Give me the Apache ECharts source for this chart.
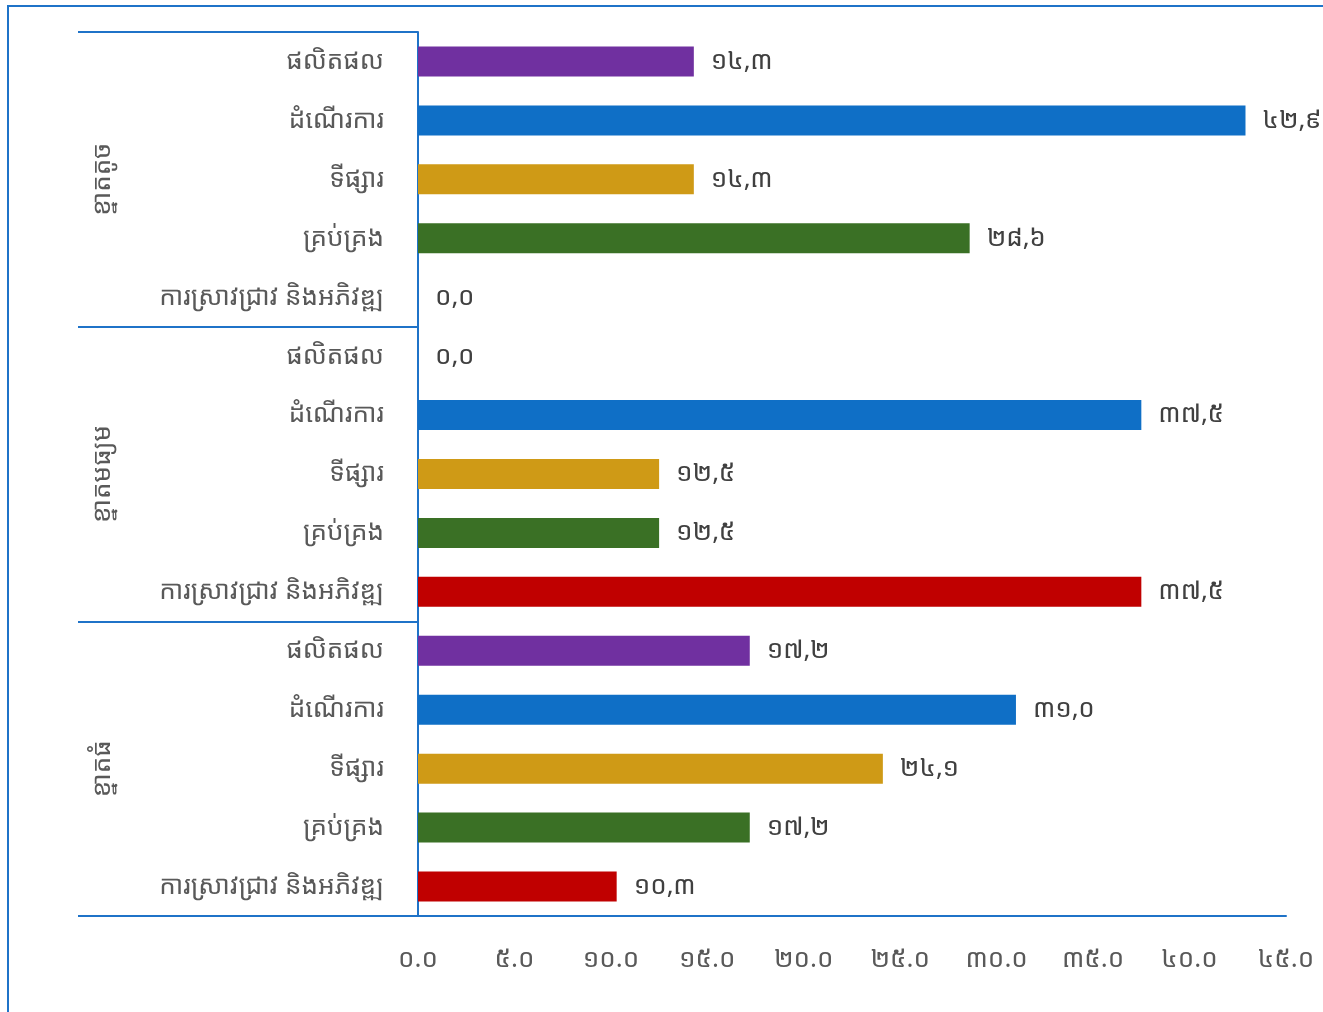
<!DOCTYPE html>
<html><head><meta charset="utf-8">
<script src="https://cdn.jsdelivr.net/npm/echarts@6/dist/echarts.min.js"></script>
<style>html,body{margin:0;padding:0;background:#fff}#c{width:1323px;height:1012px}</style>
</head><body><div id="c"></div>
<script>
var groups = ['ខ្នាតតូច', 'ខ្នាតមធ្យម', 'ខ្នាតធំ'];
var subCategories = ['ផលិតផល', 'ដំណើរការ', 'ទីផ្សារ', 'គ្រប់គ្រង', 'ការស្រាវជ្រាវ និងអភិវឌ្ឍ'];
var smallValues = [14.3, 42.9, 14.3, 28.6, 0.0];
var mediumValues = [0.0, 37.5, 12.5, 12.5, 37.5];
var largeValues = [17.2, 31.0, 24.1, 17.2, 10.3];
var subColors = ['#7030a0', '#0f6fc6', '#cf9a16', '#3a7025', '#c00000'];
var xTicks = [0, 5, 10, 15, 20, 25, 30, 35, 40, 45];

var KD = '០១២៣៤៥៦៧៨៩';
function kh(s){ return String(s).replace(/[0-9]/g, function(d){ return KD[+d]; }); }

var cats = [], data = [];
[smallValues, mediumValues, largeValues].forEach(function(vals, gi){
  vals.forEach(function(v, i){
    cats.push(subCategories[i]);
    data.push({value: v, itemStyle: {color: subColors[i]}});
  });
});

var FONT = '"Noto Sans Khmer", "Noto Sans", sans-serif';
var blue = '#1f73c8';
var chart = echarts.init(document.getElementById('c'));
chart.setOption({
  animation: false,
  grid: {left: 418, right: 37, top: 32, bottom: 96, containLabel: false},
  graphic: [{type: 'rect', shape: {x: 8, y: 6, width: 1340, height: 1030}, style: {fill: 'none', stroke: blue, lineWidth: 2}, silent: true}],
  xAxis: {
    type: 'value', min: xTicks[0], max: xTicks[xTicks.length - 1], interval: 5,
    axisLine: {show: true, lineStyle: {color: blue, width: 2}},
    axisTick: {show: false},
    splitLine: {show: false},
    axisLabel: {margin: 31, fontSize: 26, color: '#595959', fontFamily: FONT,
      formatter: function(v){ return kh(v.toFixed(1)); }}
  },
  yAxis: [{
    type: 'category', data: cats, inverse: true,
    axisLine: {show: true, lineStyle: {color: blue, width: 2}},
    axisTick: {show: false},
    axisLabel: {margin: 34, fontSize: 26, color: '#595959', fontFamily: FONT, padding: [0, 0, 8, 0]}
  }, {
    type: 'category', data: groups, inverse: true, position: 'left',
    axisLine: {show: false},
    axisTick: {show: true, length: 340, lineStyle: {color: blue, width: 2}},
    axisLabel: {margin: 302, rotate: 90, fontSize: 26, color: '#595959', fontFamily: FONT}
  }],
  series: [{
    type: 'bar', yAxisIndex: 0, data: data, barWidth: 30,
    label: {show: true, position: 'right', distance: 17, fontSize: 26, color: '#404040', fontFamily: FONT,
      formatter: function(p){ return kh(p.value.toFixed(1).replace('.', ',')); }}
  }]
});
</script></body></html>
